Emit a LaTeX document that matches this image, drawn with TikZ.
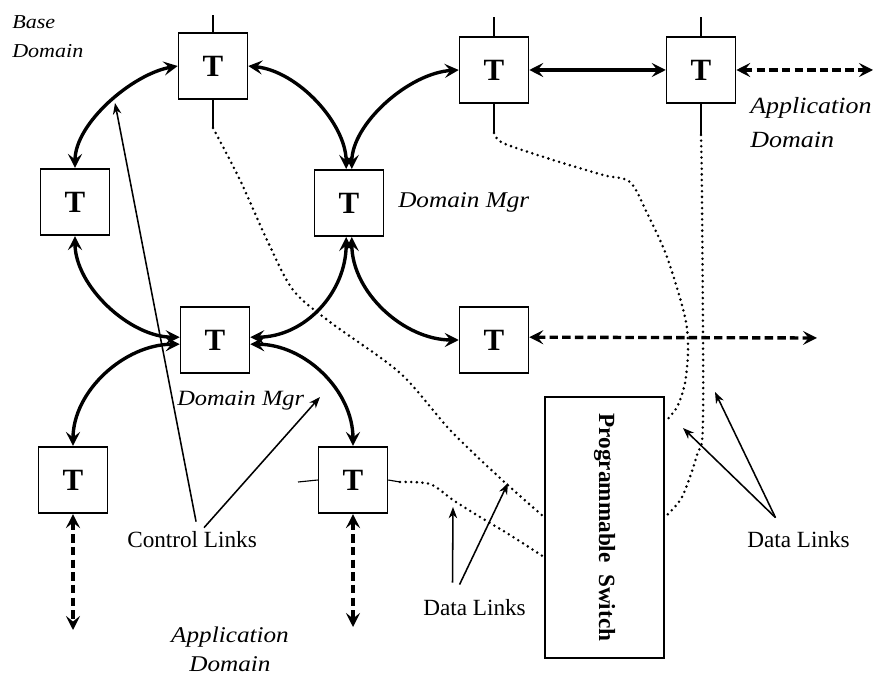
\documentclass[tikz,border=0pt]{standalone}
\usepackage{fontspec}
\usepackage{graphicx}
\setmainfont{Liberation Serif}
\newfontfamily\wideserif{Liberation Serif}[FakeStretch=1.12]
\usetikzlibrary{
    arrows.meta,
    calc
}
\tikzset{
    >=Stealth,
    tnode/.style={
        draw,
        line width=1.2pt,
        minimum width=1.72cm,
        minimum height=1.66cm,
        inner sep=0pt,
        font=\fontsize{22}{22}\selectfont\bfseries
    },
    ctrl/.style={
        <->,
        line width=2.4pt,
        >={Stealth[length=10pt,width=10pt,inset=4pt]}
    },
    appl/.style={
        <->,
        line width=2.4pt,
        dash pattern=on 6pt off 3pt,
        >={Stealth[length=10pt,width=10pt,inset=4pt]}
    },
    data/.style={
        line width=2pt,
        line cap=round,
        dash pattern=on 0pt off 4pt
    },
    port/.style={line width=0.8pt},
    pointer/.style={
        ->,
        line width=1.1pt,
        >={Stealth[length=8pt,width=6pt,inset=2.5pt]}
    },
    domlbl/.style={
        inner sep=0pt,
        font={\wideserif\itshape\fontsize{16}{24}\selectfont}
    },
    linklbl/.style={
        inner sep=0pt,
        anchor=base west,
        font=\fontsize{16.5}{20}\selectfont
    }
}

\begin{document}
\begin{tikzpicture}[
    x=0.025cm,
    y=-0.025cm
]
    \useasboundingbox (0,0) rectangle (874,675);

    % Nodos
    \node[tnode] (t1) at (213,66)  {T};
    \node[tnode] (t2) at (75,202)  {T};
    \node[tnode] (t3) at (349,203) {T};
    \node[tnode] (t4) at (215,340) {T};
    \node[tnode] (t5) at (494,70)  {T};
    \node[tnode] (t6) at (701,70)  {T};
    \node[tnode] (t7) at (494,340) {T};
    \node[tnode] (t8) at (73,480)  {T};
    \node[tnode] (t9) at (353,480) {T};

    \node[draw, line width=1.5pt, minimum width=2.97cm,
          minimum height=6.52cm, inner sep=0pt] (sw) at (604.5,527.5)
        {\rotatebox{-90}{\fontsize{16.5}{16.5}\selectfont\bfseries
         Programmable~~Switch}};

    % Etiquetas
    \node[domlbl, anchor=north west, align=left,
          font={\wideserif\itshape\fontsize{14}{21}\selectfont}]
        (base) at (12,15) {Base\\Domain};
    \node[domlbl, anchor=base west] (mgr1) at (398,208) {Domain Mgr};
    \node[domlbl, anchor=base west,
          font={\wideserif\itshape\fontsize{15.5}{20}\selectfont}]
        (mgr2) at (177,405) {Domain Mgr};
    \node[domlbl, anchor=north west, align=left,
          font={\wideserif\itshape\fontsize{16.5}{24}\selectfont}]
        (app1) at (750,97) {Application\\Domain};
    \node[domlbl, anchor=north, align=center,
          font={\wideserif\itshape\fontsize{16}{20.6}\selectfont}]
        (app2) at (230,627) {Application\\Domain};

    \node[linklbl] (cl)  at (127,547) {Control Links};
    \node[linklbl] (dll) at (423,615) {Data Links};
    \node[linklbl] (dlr) at (747,547) {Data Links};

    % Enlaces de control
    \draw[ctrl] (t1.west) .. controls +(-45,8) and +(0,-45) .. (t2.north);
    \draw[ctrl] (t1.east) .. controls +(50,5) and +(0,-45)
        .. ([xshift=-2pt]t3.north);
    \draw[ctrl] (t5.west) .. controls +(-50,3) and +(0,-45)
        .. ([xshift=2pt]t3.north);
    \draw[ctrl] ([xshift=-2pt]t3.south) .. controls +(0,55) and +(55,0)
        .. ([yshift=2pt]t4.east);
    \draw[ctrl] ([xshift=2pt]t3.south) .. controls +(0,55) and +(-55,0)
        .. (t7.west);
    \draw[ctrl] (t2.south) .. controls +(0,50) and +(-50,0)
        .. ([yshift=2pt]t4.west);
    \draw[ctrl] ([yshift=-3pt]t4.west) .. controls +(-55,0) and +(0,-55)
        .. (t8.north);
    \draw[ctrl] ([yshift=-3pt]t4.east) .. controls +(55,0) and +(0,-55)
        .. (t9.north);
    \draw[ctrl] (t5.east) -- (t6.west);

    % Enlaces de aplicacion
    \coordinate (a6) at (873,70);
    \coordinate (a7) at (817,338);
    \coordinate (a8) at (73,630);
    \coordinate (a9) at (353,627);
    \draw[appl] (t6.east) -- (a6);
    \draw[appl] ([yshift=2pt]t7.east) -- (a7);
    \draw[appl] (t8.south) -- (a8);
    \draw[appl] (t9.south) -- (a9);

    % Puertos
    \coordinate (p1a) at (213,15);
    \coordinate (p1b) at (213,128);
    \coordinate (p5a) at (494,17);
    \coordinate (p5b) at (494,133);
    \coordinate (p6a) at (701,17);
    \coordinate (p6b) at (701,135);
    \coordinate (p9a) at (298,482);
    \coordinate (p9b) at (400,482);
    \draw[port] (t1.north) -- (p1a);
    \draw[port] (t1.south) -- (p1b);
    \draw[port] (t5.north) -- (p5a);
    \draw[port] (t5.south) -- (p5b);
    \draw[port] (t6.north) -- (p6a);
    \draw[port] (t6.south) -- (p6b);
    \draw[port] (t9.west) -- (p9a);
    \draw[port] (t9.east) -- (p9b);

    % Enlaces de datos
    \draw[data] plot[smooth] coordinates {
        (p1b) (240,180) (267,240) (293,290) (330,322) (400,373)
        (450,430) (500,478) ($(sw.north west)+(0,121)$)};
    \draw[data] plot[smooth] coordinates {
        (p9b) (430,484) (453,500) (480,517) (510,535)
        ($(sw.north west)+(0,161)$)};
    \draw[data] plot[smooth] coordinates {
        (p5b) (503,143) (553,160) (603,175) (630,182) (647,213)
        (667,257) (685,317) (688,350) (685,383) (677,407)
        ($(sw.north east)+(0,26)$)};
    \draw[data] plot[smooth] coordinates {
        (p6b) (702,200) (703,420) (697,455) (682,497)
        ($(sw.north east)+(0,121)$)};

    % Flechas de las etiquetas
    \coordinate (ca) at (115,103);
    \coordinate (cb) at (320,397);
    \coordinate (da) at (453,507);
    \coordinate (db) at (508,483);
    \coordinate (dc) at (683,428);
    \coordinate (dd) at (715,392);
    \draw[pointer] ($(cl.north)+(4,-9)$) -- (ca);
    \draw[pointer] ($(cl.north)+(12,-3)$) -- (cb);
    \draw[pointer] ($(dll.north)+(-22,-16)$) -- (da);
    \draw[pointer] ($(dll.north)+(-15,-14)$) -- (db);
    \draw[pointer] ($(dlr.north)+(-23,-13)$) -- (dc);
    \draw[pointer] ($(dlr.north)+(-23,-13)$) -- (dd);

\end{tikzpicture}
\end{document}
